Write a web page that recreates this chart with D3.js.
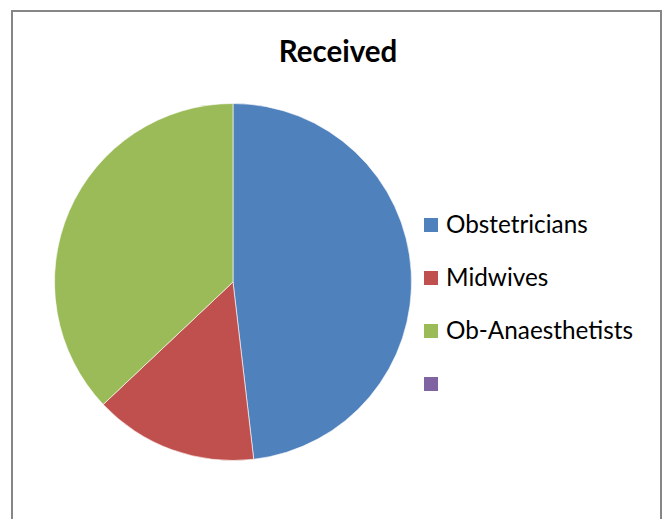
<!DOCTYPE html>
<html>
<head>
<meta charset="utf-8">
<script src="https://cdn.jsdelivr.net/npm/d3@7"></script>
<style>
  html, body { margin: 0; padding: 0; background: #fff; }
  svg { display: block; }
</style>
</head>
<body>
<script>
// Chart data
const chartTitle = "Received";
const categories = ["Obstetricians", "Midwives", "Ob-Anaesthetists", ""];
const values = [13, 4, 10, 0];
const colors = ["#4F81BD", "#C0504D", "#9BBB59", "#8064A2"];

const width = 663, height = 519;
const svg = d3.select("body").append("svg")
  .attr("width", width).attr("height", height);

// Chart area frame (runs off the bottom edge)
svg.append("rect")
  .attr("x", 12).attr("y", 11)
  .attr("width", 649).attr("height", 540)
  .attr("fill", "#fff")
  .attr("stroke", "#868686")
  .attr("stroke-width", 2);

// Title
svg.append("text")
  .attr("x", 338).attr("y", 62)
  .attr("text-anchor", "middle")
  .attr("font-family", "Lato, 'Open Sans', sans-serif")
  .attr("font-weight", "bold")
  .attr("font-size", 29.5)
  .attr("fill", "#000")
  .text(chartTitle);

// Pie
const cx = 233, cy = 282, radius = 178.5;
const color = d3.scaleOrdinal().domain(categories).range(colors);
const pie = d3.pie().sort(null).value(d => d.value);
const arc = d3.arc().innerRadius(0).outerRadius(radius);
const data = categories.map((c, i) => ({ name: c, value: values[i] }));

const g = svg.append("g").attr("transform", `translate(${cx},${cy})`);
g.selectAll("path")
  .data(pie(data).filter(d => d.data.value > 0))
  .join("path")
  .attr("d", arc)
  .attr("fill", d => color(d.data.name))
  .attr("stroke", "rgba(255,255,255,0.6)")
  .attr("stroke-width", 1);

// Legend
const legendX = 424, legendY = 218, rowGap = 53, sw = 14;
const legend = svg.append("g");
const rows = legend.selectAll("g")
  .data(data)
  .join("g")
  .attr("transform", (d, i) => `translate(${legendX},${legendY + i * rowGap})`);
rows.append("rect")
  .attr("width", sw).attr("height", sw)
  .attr("fill", d => color(d.name));
rows.append("text")
  .attr("x", 22).attr("y", 14.5)
  .attr("font-family", "Lato, 'Open Sans', sans-serif")
  .attr("font-size", 24.3)
  .attr("fill", "#000")
  .text(d => d.name);
</script>
</body>
</html>
